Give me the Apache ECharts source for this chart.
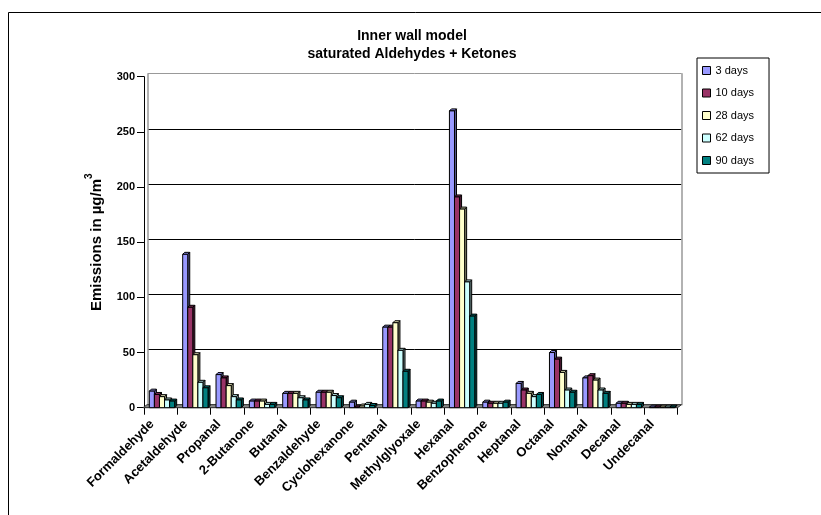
<!DOCTYPE html>
<html>
<head>
<meta charset="utf-8">
<script src="https://cdn.jsdelivr.net/npm/echarts@6/dist/echarts.min.js"></script>
<style>
  html, body { margin: 0; padding: 0; background: #fff; }
  #chart { width: 821px; height: 515px; }
</style>
</head>
<body>
<div id="chart"></div>
<script>
// Emission values (µg/m³) per compound, one array per sampling age
const categories = ['Formaldehyde', 'Acetaldehyde', 'Propanal', '2-Butanone', 'Butanal',
  'Benzaldehyde', 'Cyclohexanone', 'Pentanal', 'Methylglyoxale', 'Hexanal',
  'Benzophenone', 'Heptanal', 'Octanal', 'Nonanal', 'Decanal', 'Undecanal'];
const seriesNames = ['3 days', '10 days', '28 days', '62 days', '90 days'];
const days3  = [15, 139, 30, 6, 13, 14, 5,   73, 6, 269, 5, 22, 50, 27, 4, 0.5];
const days10 = [12,  91, 27, 6, 13, 14, 0.5, 73, 6, 191, 4, 16, 44, 29, 4, 0.5];
const days28 = [10,  48, 20, 6, 13, 14, 1.5, 77, 5, 180, 4, 13, 32, 25, 3, 0.5];
const days62 = [ 7,  23, 10, 3,  9, 11, 3,   52, 4, 114, 4, 10, 16, 16, 3, 0.5];
const days90 = [ 6,  18,  7, 3,  7,  9, 2,   33, 6,  83, 5, 12, 14, 13, 3, 0.5];
const seriesValues = [days3, days10, days28, days62, days90];
const seriesColors = ['#9999FF', '#993366', '#FFFFCC', '#CCFFFF', '#008080'];

const FONT = 'Arial, "Liberation Sans", sans-serif';

// Plot area (front face) and back wall of the pseudo-3D frame
const FRONT = { left: 144, right: 677.5, top: 76.7, bottom: 407.7 };
const DEPTH_X = 4, DEPTH_Y = 3;
const BAR_DX = 2, BAR_DY = 2;

function shade(hex, f) {
  const n = parseInt(hex.slice(1), 16);
  const r = Math.round(((n >> 16) & 255) * f);
  const g = Math.round(((n >> 8) & 255) * f);
  const b = Math.round((n & 255) * f);
  return 'rgb(' + r + ',' + g + ',' + b + ')';
}

function makeRenderer(si) {
  const color = seriesColors[si];
  return function (params, api) {
    const ci = api.value(0);
    const v = api.value(1);
    const base = api.coord([ci, 0]);
    const top = api.coord([ci, v]);
    const band = api.size([1, 0])[0];
    const w = band * 0.152;
    const x0 = base[0] - band / 2 + band * 0.16 + si * w;
    const yb = base[1];
    const yt = top[1];
    const stroke = { stroke: '#000', lineWidth: 1 };
    return {
      type: 'group',
      children: [
        {
          type: 'polygon',
          shape: { points: [[x0 + w, yt], [x0 + w + BAR_DX, yt - BAR_DY], [x0 + w + BAR_DX, yb - BAR_DY], [x0 + w, yb]] },
          style: Object.assign({ fill: shade(color, 0.55) }, stroke)
        },
        {
          type: 'polygon',
          shape: { points: [[x0, yt], [x0 + BAR_DX, yt - BAR_DY], [x0 + w + BAR_DX, yt - BAR_DY], [x0 + w, yt]] },
          style: Object.assign({ fill: shade(color, 0.85) }, stroke)
        },
        {
          type: 'rect',
          shape: { x: x0, y: yt, width: w, height: yb - yt },
          style: Object.assign({ fill: color }, stroke)
        }
      ]
    };
  };
}

const series = seriesNames.map(function (name, si) {
  return {
    name: name,
    type: 'custom',
    xAxisIndex: 0,
    yAxisIndex: 0,
    z: 3,
    renderItem: makeRenderer(si),
    itemStyle: { color: seriesColors[si], borderColor: '#000', borderWidth: 1 },
    encode: { x: 0, y: 1 },
    data: seriesValues[si].map(function (v, ci) { return [ci, v]; })
  };
});

const W = 821, H = 515;
const TITLE_X = 412;
const option = {
  animation: false,
  backgroundColor: '#fff',
  textStyle: { fontFamily: FONT },
  grid: [
    { left: FRONT.left, right: W - FRONT.right, top: FRONT.top, bottom: H - FRONT.bottom },
    { left: FRONT.left + DEPTH_X, right: W - FRONT.right - DEPTH_X, top: FRONT.top - DEPTH_Y, bottom: H - FRONT.bottom + DEPTH_Y }
  ],
  legend: {
    orient: 'vertical',
    left: 697,
    top: 58,
    backgroundColor: '#fff',
    borderColor: '#000',
    borderWidth: 1,
    padding: [7, 15, 7, 5],
    itemGap: 11.5,
    itemWidth: 8,
    itemHeight: 8,
    icon: 'rect',
    textStyle: { fontFamily: FONT, fontSize: 11, color: '#000' },
    data: seriesNames.map(function (n, i) {
      return { name: n, itemStyle: { color: seriesColors[i], borderColor: '#000', borderWidth: 1 } };
    })
  },
  xAxis: [
    {
      type: 'category',
      gridIndex: 0,
      data: categories,
      axisLine: { show: true, lineStyle: { color: '#000', width: 1 } },
      axisTick: { show: true, length: 7, interval: 0, lineStyle: { color: '#000' } },
      axisLabel: {
        interval: 0, rotate: 45, margin: 6, padding: [0, 12, 0, 0],
        fontFamily: FONT, fontWeight: 'bold', fontSize: 13, color: '#000'
      },
      splitLine: { show: false }
    },
    {
      type: 'category',
      gridIndex: 1,
      data: categories,
      show: false
    }
  ],
  yAxis: [
    {
      type: 'value',
      gridIndex: 0,
      min: 0, max: 300, interval: 50,
      axisLine: { show: true, lineStyle: { color: '#000', width: 1 } },
      axisTick: { show: true, length: 7, lineStyle: { color: '#000' } },
      axisLabel: { margin: 9, fontFamily: FONT, fontWeight: 'bold', fontSize: 11, color: '#000' },
      splitLine: { show: false },
      name: '{t|Emissions in µg/m}{s|3}',
      nameLocation: 'middle',
      nameRotate: 90,
      nameGap: 40,
      nameTextStyle: {
        rich: {
          t: { fontFamily: FONT, fontWeight: 'bold', fontSize: 15, color: '#000', lineHeight: 20, verticalAlign: 'bottom' },
          s: { fontFamily: FONT, fontWeight: 'bold', fontSize: 10, color: '#000', lineHeight: 20, verticalAlign: 'top' }
        }
      }
    },
    {
      type: 'value',
      gridIndex: 1,
      min: 0, max: 300, interval: 50,
      axisLine: { show: true, lineStyle: { color: '#999', width: 1.5 } },
      axisTick: { show: false },
      axisLabel: { show: false },
      splitLine: { show: true, lineStyle: { color: ['#777', '#000', '#000', '#000', '#000', '#000', '#999'], width: 1 } }
    },
    {
      type: 'value',
      gridIndex: 1,
      position: 'right',
      min: 0, max: 300, interval: 50,
      axisLine: { show: true, lineStyle: { color: '#999', width: 1.5 } },
      axisTick: { show: false },
      axisLabel: { show: false },
      splitLine: { show: false }
    }
  ],
  graphic: [
    {
      type: 'rect',
      z: 0,
      shape: { x: 8.5, y: 12.5, width: 900, height: 600 },
      style: { fill: 'none', stroke: '#000', lineWidth: 1 }
    },
    {
      type: 'polygon',
      z: 1,
      shape: {
        points: [
          [FRONT.left - 1, FRONT.bottom], [FRONT.right, FRONT.bottom],
          [FRONT.right + DEPTH_X, FRONT.bottom - DEPTH_Y], [FRONT.left + DEPTH_X - 1, FRONT.bottom - DEPTH_Y]
        ]
      },
      style: { fill: '#8a8a8a', stroke: '#333', lineWidth: 1 }
    },
    {
      type: 'text',
      x: TITLE_X, y: 36,
      style: { text: 'Inner wall model', fontFamily: FONT, fontWeight: 'bold', fontSize: 14, fill: '#000', align: 'center', verticalAlign: 'middle' }
    },
    {
      type: 'text',
      x: TITLE_X, y: 54,
      style: { text: 'saturated Aldehydes + Ketones', fontFamily: FONT, fontWeight: 'bold', fontSize: 14, fill: '#000', align: 'center', verticalAlign: 'middle' }
    }
  ],
  series: series
};

const chart = echarts.init(document.getElementById('chart'), null, { renderer: 'canvas' });
chart.setOption(option);
</script>
</body>
</html>
